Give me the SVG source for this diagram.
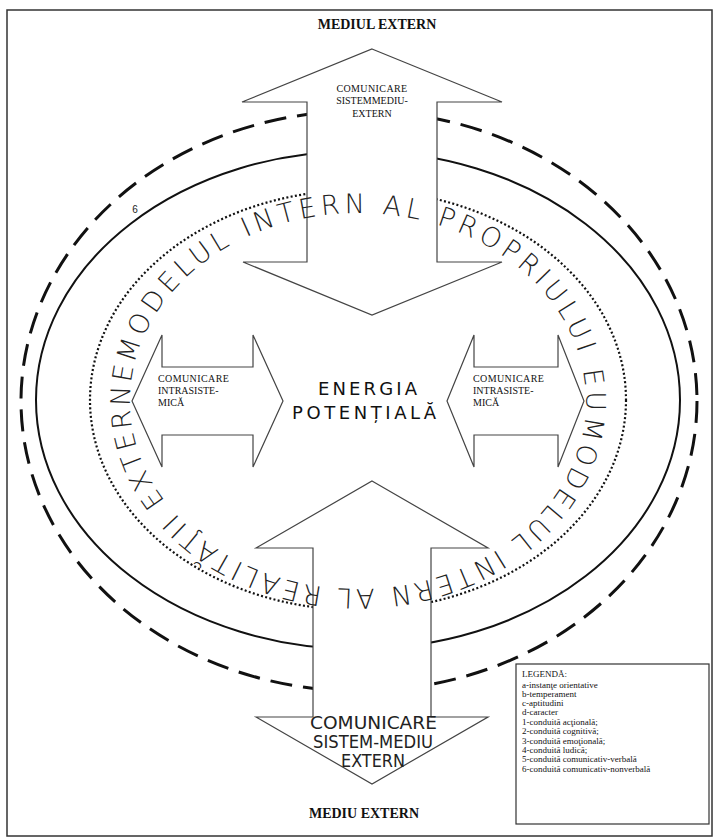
<svg xmlns="http://www.w3.org/2000/svg" width="715" height="840" viewBox="0 0 715 840">
<style>
.frame{fill:#fff;stroke:#333;stroke-width:1.5}
.dash{fill:none;stroke:#111;stroke-width:3;stroke-dasharray:22 11}
.solid{fill:none;stroke:#111;stroke-width:2}
.dot{fill:none;stroke:#111;stroke-width:2.2;stroke-dasharray:2 2.3}
.arrow{fill:#fff;stroke:#444;stroke-width:1.2;stroke-linejoin:miter}
.title{font-family:"Liberation Serif",serif;font-weight:bold;font-size:14px;fill:#111}
.small{font-family:"Liberation Serif",serif;font-size:10px;fill:#111}
.ring{font-family:"DejaVu Sans","Liberation Sans",sans-serif;font-weight:200;font-size:27px;fill:#222}
.big{font-family:"DejaVu Sans","Liberation Sans",sans-serif;font-size:18px;fill:#111}
.bot{font-family:"DejaVu Sans","Liberation Sans",sans-serif;font-size:18px;fill:#222}
.leg{font-family:"Liberation Serif",serif;font-size:9px;fill:#111}
</style>
<defs>
<path id="ringpath" d="M358,589 A228,188 0 0 1 358,213 A228,188 0 0 1 358,589 A228,188 0 0 1 358,213 A228,188 0 0 1 358,589"/>
</defs>
<rect class="frame" x="7" y="10" width="705" height="826"/>
<g id="rings">
<ellipse class="dash" cx="359" cy="401" rx="338" ry="290"/>
<ellipse class="solid" cx="358" cy="400" rx="322" ry="249"/>
<ellipse class="dot" cx="358" cy="400" rx="268" ry="210"/>
</g>
<g id="connectors">
<polygon id="arrow-top" class="arrow" points="372,49 502,102 437,102 437,262 502,262 372,315 243,262 307,262 307,102 242,102"/>
<polygon id="arrow-left" class="arrow" points="132,401 162,335 162,367 253,367 253,335 283,401 253,467 253,435 162,435 162,467"/>
<polygon id="arrow-right" class="arrow" points="447,401 474,335 474,367 558,367 558,335 584,401 558,467 558,435 474,435 474,467"/>
<polygon id="arrow-bottom" class="arrow" points="372,481 488,548 431,548 431,717 488,717 372,784 256,717 313,717 313,548 256,548"/>
</g>
<g id="mediul-extern-top"><text class="title" x="377" y="29" text-anchor="middle">MEDIUL EXTERN</text></g>
<g id="comunicare-top">
<text class="small" x="372" y="92" text-anchor="middle" letter-spacing="0.4">COMUNICARE</text>
<text class="small" x="372" y="104" text-anchor="middle">SISTEMMEDIU-</text>
<text class="small" x="372" y="117" text-anchor="middle">EXTERN</text>
</g>
<g id="label-6"><text x="135" y="213" font-family="Liberation Sans, sans-serif" font-size="10" fill="#222" text-anchor="middle">6</text></g>
<g id="ring-text">
<text class="ring"><textPath href="#ringpath" startOffset="365" textLength="627" lengthAdjust="spacing">MODELUL INTERN AL PROPRIULUI EU</textPath></text>
<text class="ring"><textPath href="#ringpath" startOffset="997" textLength="675" lengthAdjust="spacing">MODELUL INTERN AL REALITĂŢII EXTERNE</textPath></text>
</g>
<g id="intra-left">
<text class="small" x="158" y="382" letter-spacing="0.4">COMUNICARE</text>
<text class="small" x="158" y="394">INTRASISTE-</text>
<text class="small" x="158" y="406">MICĂ</text>
</g>
<g id="intra-right">
<text class="small" x="473" y="382" letter-spacing="0.4">COMUNICARE</text>
<text class="small" x="473" y="394">INTRASISTE-</text>
<text class="small" x="473" y="406">MICĂ</text>
</g>
<g id="energia">
<text class="big" x="318" y="395" textLength="99" lengthAdjust="spacing">ENERGIA</text>
<text class="big" x="292" y="419" textLength="144" lengthAdjust="spacing">POTENȚIALĂ</text>
</g>
<g id="comunicare-bottom">
<text class="bot" x="310" y="729" textLength="127" lengthAdjust="spacingAndGlyphs">COMUNICARE</text>
<text class="bot" x="313" y="748" textLength="120" lengthAdjust="spacingAndGlyphs">SISTEM-MEDIU</text>
<text class="bot" x="341" y="767" textLength="64" lengthAdjust="spacingAndGlyphs">EXTERN</text>
</g>
<g id="mediu-extern-bottom"><text class="title" x="364" y="818" text-anchor="middle">MEDIU EXTERN</text></g>
<g id="legend">
<rect x="516" y="664" width="193" height="160" fill="#fff" stroke="#333" stroke-width="1.2"/>
<text class="leg" x="522" y="677">LEGENDĂ:</text>
<text class="leg" x="522" y="688">a-instanţe orientative</text>
<text class="leg" x="522" y="697">b-temperament</text>
<text class="leg" x="522" y="706">c-aptitudini</text>
<text class="leg" x="522" y="715">d-caracter</text>
<text class="leg" x="522" y="725">1-conduită acţională;</text>
<text class="leg" x="522" y="734">2-conduită cognitivă;</text>
<text class="leg" x="522" y="744">3-conduită emoţională;</text>
<text class="leg" x="522" y="753">4-conduită ludică;</text>
<text class="leg" x="522" y="762">5-conduită comunicativ-verbală</text>
<text class="leg" x="522" y="772">6-conduită comunicativ-nonverbală</text>
</g>
</svg>
